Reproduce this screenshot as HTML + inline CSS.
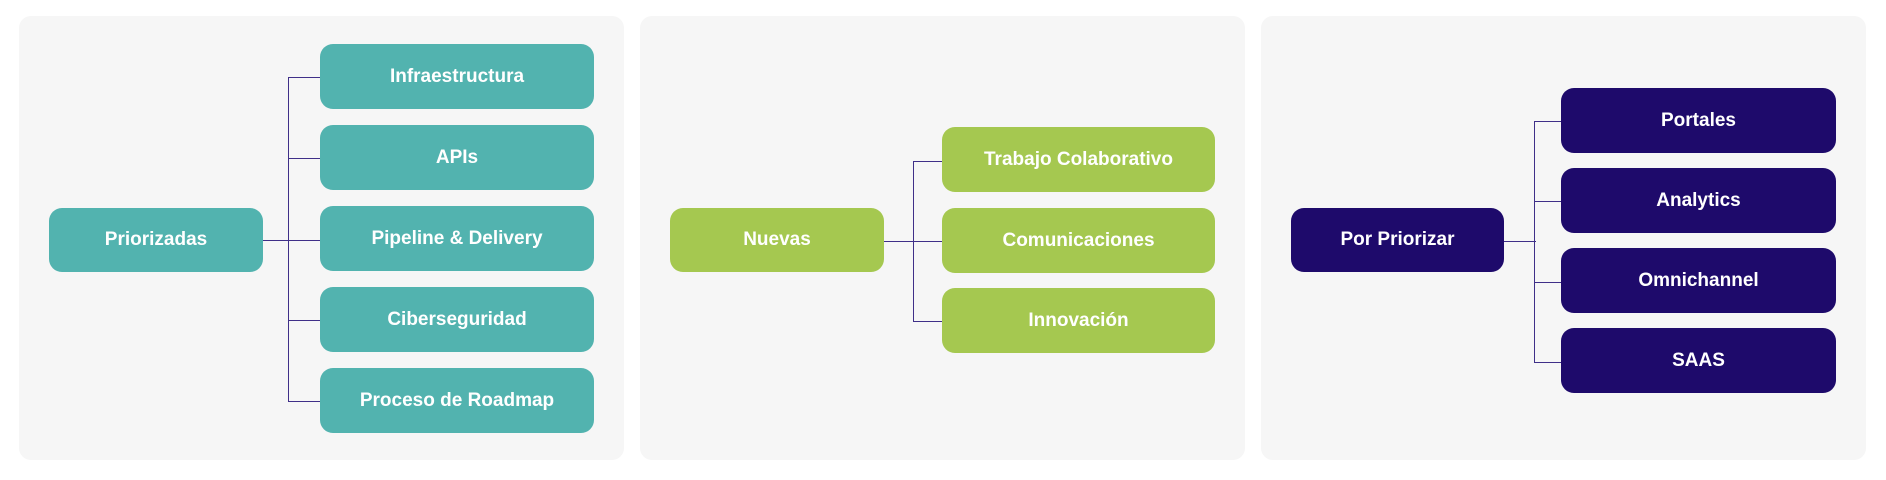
<!DOCTYPE html>
<html><head><meta charset="utf-8"><style>
body{margin:0;width:1886px;height:480px;background:#fff;position:relative;overflow:hidden;font-family:"Liberation Sans",sans-serif}
.p{position:absolute;top:16px;height:444px;width:605px;background:#f6f6f6;border-radius:12px}
.b{position:absolute;height:65px;border-radius:13px;color:#fff;font-weight:bold;font-size:19px;display:flex;align-items:center;justify-content:center}
.t{background:#52b3af}.g{background:#a5c850}.n{background:#1e0a6b}
.l{position:absolute;background:#3f2f88}
</style></head><body>
<div class="p" style="left:19px"></div>
<div class="p" style="left:640px"></div>
<div class="p" style="left:1261px"></div>

<!-- panel 1 -->
<div class="l" style="left:263px;top:240px;width:57px;height:1px"></div>
<div class="l" style="left:288px;top:77px;width:1px;height:325px"></div>
<div class="l" style="left:288px;top:77px;width:32px;height:1px"></div>
<div class="l" style="left:288px;top:158px;width:32px;height:1px"></div>
<div class="l" style="left:288px;top:320px;width:32px;height:1px"></div>
<div class="l" style="left:288px;top:401px;width:32px;height:1px"></div>
<div class="b t" style="left:49px;top:208px;width:214px;height:64px">Priorizadas</div>
<div class="b t" style="left:320px;top:44px;width:274px">Infraestructura</div>
<div class="b t" style="left:320px;top:125px;width:274px">APIs</div>
<div class="b t" style="left:320px;top:206px;width:274px">Pipeline &amp; Delivery</div>
<div class="b t" style="left:320px;top:287px;width:274px">Ciberseguridad</div>
<div class="b t" style="left:320px;top:368px;width:274px">Proceso de Roadmap</div>

<!-- panel 2 -->
<div class="l" style="left:884px;top:241px;width:58px;height:1px"></div>
<div class="l" style="left:913px;top:161px;width:1px;height:161px"></div>
<div class="l" style="left:913px;top:161px;width:29px;height:1px"></div>
<div class="l" style="left:913px;top:321px;width:29px;height:1px"></div>
<div class="b g" style="left:670px;top:208px;width:214px;height:64px">Nuevas</div>
<div class="b g" style="left:942px;top:127px;width:273px">Trabajo Colaborativo</div>
<div class="b g" style="left:942px;top:208px;width:273px">Comunicaciones</div>
<div class="b g" style="left:942px;top:288px;width:273px">Innovación</div>

<!-- panel 3 -->
<div class="l" style="left:1504px;top:241px;width:32px;height:1px"></div>
<div class="l" style="left:1534px;top:121px;width:1px;height:241px"></div>
<div class="l" style="left:1534px;top:121px;width:27px;height:1px"></div>
<div class="l" style="left:1534px;top:201px;width:27px;height:1px"></div>
<div class="l" style="left:1534px;top:282px;width:27px;height:1px"></div>
<div class="l" style="left:1534px;top:362px;width:27px;height:1px"></div>
<div class="b n" style="left:1291px;top:208px;width:213px;height:64px">Por Priorizar</div>
<div class="b n" style="left:1561px;top:88px;width:275px">Portales</div>
<div class="b n" style="left:1561px;top:168px;width:275px">Analytics</div>
<div class="b n" style="left:1561px;top:248px;width:275px">Omnichannel</div>
<div class="b n" style="left:1561px;top:328px;width:275px">SAAS</div>
</body></html>
